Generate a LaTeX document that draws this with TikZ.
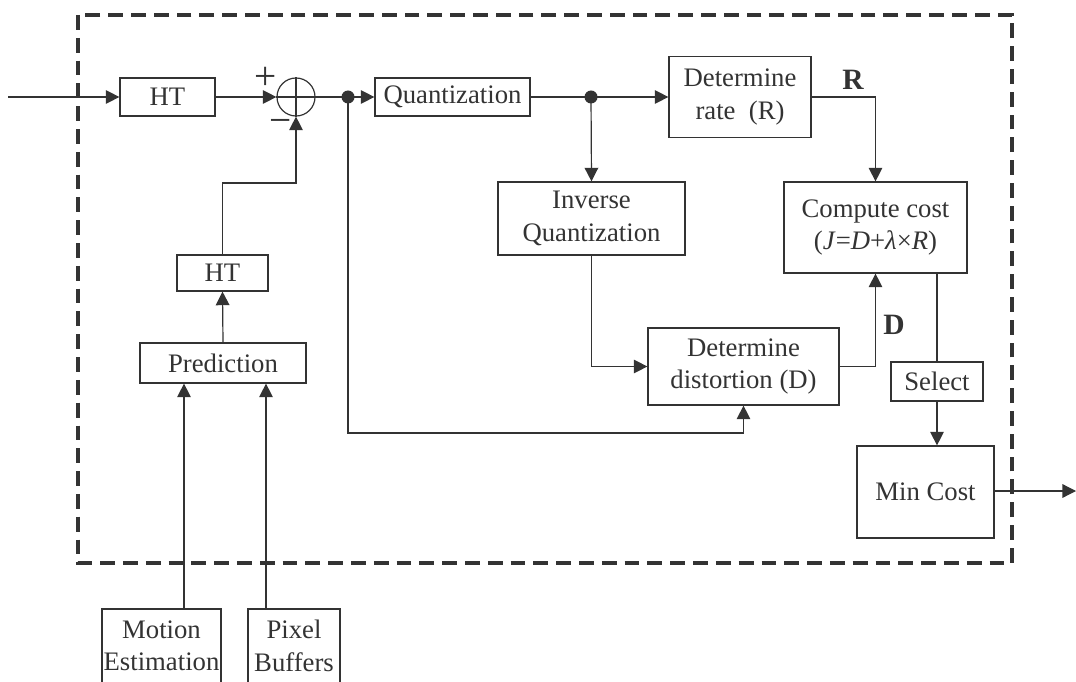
\documentclass[tikz,border=0pt]{standalone}
\usepackage{fontspec}
\setmainfont{Liberation Serif}
\usepackage{tikz}
\usetikzlibrary{arrows.meta}
\definecolor{ink}{HTML}{333333}

\begin{document}
\begin{tikzpicture}[x=0.025cm,y=-0.025cm,
		font=\fontsize{19}{23}\selectfont,
		ln/.style={ink,line width=0.85pt},
		arr/.style={ln,-{Triangle[length=0.34cm,width=0.34cm]}},
		blk/.style={ln,draw,rectangle,align=center,inner sep=1pt,text=ink},
		txt/.style={align=center,inner sep=0pt,text=ink},
		border/.style={ink,line width=2.2pt,dash pattern=on 0.37cm off 0.2cm}]
			\useasboundingbox (0,0) rectangle (1076,682);
			\clip (0,0) rectangle (1076,682);
			\draw[border] (78,15) rectangle (1012,563);

			\node[blk,minimum width=2.375cm,minimum height=0.95cm] (ht) at (167.5,97) {HT};
			\node[ln,draw,circle,minimum size=0.95cm,inner sep=0pt] (sum) at (296,97) {};
			\draw[ln] (sum.north) -- (sum.south);
			\draw[ln] (sum.west) -- (sum.east);
			\node[txt,font=\fontsize{28}{30}\selectfont] (plus) at (266,78) {+};
			\node[txt,font=\fontsize{28}{30}\selectfont] (minus) at (281,126) {\textminus};
			\node[blk,minimum width=3.875cm,minimum height=0.95cm] (quant) at (452.5,97) {Quantization};
			\node[blk,minimum width=3.55cm,minimum height=2.025cm] (rate) at (740,97) {Determine\\rate~ (R)};
			\node[blk,minimum width=4.675cm,minimum height=1.825cm] (invq) at (591.5,218.5) {Inverse\\Quantization};
			\node[blk,minimum width=4.575cm,minimum height=2.275cm] (cost) at (875.5,227.5) {Compute cost\\(\textit{J}=\textit{D}+\textit{λ}×\textit{R})};
			\node[blk,minimum width=4.775cm,minimum height=1.925cm] (dist) at (743.5,366.5) {Determine\\distortion (D)};
			\node[blk,minimum width=2.3cm,minimum height=0.975cm] (select) at (937,381.5) {Select};
			\node[blk,minimum width=3.425cm,minimum height=2.3cm] (mincost) at (925.5,492) {Min Cost};
			\node[blk,minimum width=2.275cm,minimum height=0.9cm] (ht2) at (222.5,273) {HT};
			\node[blk,minimum width=4.15cm,minimum height=1cm] (pred) at (223,363) {Prediction};
			\node[txt] (me) at (161.5,646) {Motion\\Estimation};
			\draw[ln] (102,700) |- (221,609) -- (221,700);
			\node[txt] (pb) at (294,646) {Pixel\\Buffers};
			\draw[ln] (248,700) |- (340,609) -- (340,700);
			\node[txt,font=\fontsize{21}{23}\selectfont\bfseries] (rlab) at (853,80) {R};
			\node[txt,font=\fontsize{21}{23}\selectfont\bfseries] (dlab) at (894,325) {D};

			\coordinate (in) at (8,97);
			\coordinate (j1) at (348,97);
			\coordinate (j2) at (591,97);
			\coordinate (kink) at (296,183);
			\coordinate (fb) at (743.5,433);
			\coordinate (metop) at (184,609);
			\coordinate (pbtop) at (266,609);
			\coordinate (out) at (1076,491);

			\draw[arr] (in) -- (ht);
			\draw[arr] (ht) -- (sum.west);
			\draw[arr] (sum.east) -- (quant.west);
			\fill[ink] (j1) circle (6.5);
			\draw[arr] (quant.east) -- (rate.west);
			\fill[ink] (j2) circle (6.5);
			\draw[arr] (j2) -- (invq.north);
			\draw[arr] (rate.east) -| (cost.north);
			\draw[arr] (invq.south) |- (dist.west);
			\draw[arr] (j1) |- (fb) -- (dist.south);
			\draw[arr] (dist.east) -| (cost.south);
			\draw[ln] (cost.south -| select.north) -- (select.north);
			\draw[arr] (select.south) -- (select.south |- mincost.north);
			\draw[arr] (mincost.east |- out) -- (out);
			\draw[arr] (ht2.north) |- (kink) -- (sum.south);
			\draw[arr] (pred.north) -- (ht2.south);
			\draw[arr] (metop) -- (pred.south -| metop);
			\draw[arr] (pbtop) -- (pred.south -| pbtop);
\end{tikzpicture}
\end{document}
